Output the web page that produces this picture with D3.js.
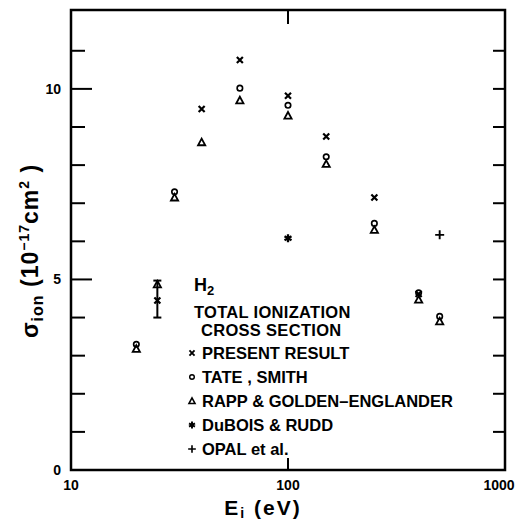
<!DOCTYPE html>
<html>
<head>
<meta charset="utf-8">
<script src="https://cdn.jsdelivr.net/npm/d3@7"></script>
<style>
  body { margin: 0; background: #fff; }
  text { font-family: "Liberation Sans", Arial, sans-serif; fill: #000; }
</style>
</head>
<body>
<script>
// energies in eV, cross sections in 1e-17 cm^2
var presentResult = [[25, 4.45], [40, 9.47], [60, 10.76], [100, 9.82], [150, 8.75], [250, 7.15], [400, 4.62]];
var presentError = [[25, 4.0, 4.97]];
var tateSmith = [[20, 3.3], [30, 7.3], [60, 10.02], [100, 9.57], [150, 8.22], [250, 6.47], [400, 4.65], [500, 4.03]];
var rappGolden = [[20, 3.18], [25, 4.87], [30, 7.15], [40, 8.6], [60, 9.7], [100, 9.3], [150, 8.03], [250, 6.3], [400, 4.47], [500, 3.9]];
var duboisRudd = [[100, 6.08]];
var opal = [[500, 6.17]];

var xTicks = [10, 100, 1000];
var yMajor = [0, 5, 10];
var yMinor = [1, 2, 3, 4, 6, 7, 8, 9, 11];
var legendNames = ["PRESENT RESULT", "TATE , SMITH", "RAPP & GOLDEN\u2013ENGLANDER", "DuBOIS & RUDD", "OPAL  et al."];
var legendKeys = ["x", "o", "t", "s", "p"];

var svg = d3.select("body").append("svg")
  .attr("width", 523)
  .attr("height", 520);

var x = d3.scaleLog().domain([10, 1000]).range([71, 505]);
var y = d3.scaleLinear().domain([0, 12.07]).range([470, 10]);

// markers
function drawMark(g, key) {
  if (key == "x") {
    g.append("path").attr("d", "M-3,-3L3,3M3,-3L-3,3")
      .attr("stroke", "#000").attr("stroke-width", 2.2).attr("fill", "none");
  } else if (key == "o") {
    g.append("circle").attr("r", 2.7)
      .attr("stroke", "#000").attr("stroke-width", 1.7).attr("fill", "none");
  } else if (key == "t") {
    g.append("path").attr("d", "M0,-3.6L3.6,3L-3.6,3Z")
      .attr("stroke", "#000").attr("stroke-width", 1.8).attr("fill", "none");
  } else if (key == "s") {
    g.append("path").attr("d", "M0,-4V4M-3.5,-2L3.5,2M3.5,-2L-3.5,2")
      .attr("stroke", "#000").attr("stroke-width", 2.3).attr("fill", "none");
  } else if (key == "p") {
    g.append("path").attr("d", "M0,-4.5V4.5M-4.5,0H4.5")
      .attr("stroke", "#000").attr("stroke-width", 1.9).attr("fill", "none");
  }
}

function plotSeries(data, key) {
  svg.append("g").selectAll("g")
    .data(data)
    .enter().append("g")
      .attr("transform", function(d) { return "translate(" + x(d[0]) + "," + y(d[1]) + ")"; })
      .each(function() { drawMark(d3.select(this), key); });
}

// frame
svg.append("rect")
  .attr("x", 71).attr("y", 10)
  .attr("width", 434).attr("height", 460)
  .attr("fill", "none")
  .attr("stroke", "#000")
  .attr("stroke-width", 2.5);

// y ticks
svg.selectAll(".ymaj")
  .data(yMajor.filter(function(v) { return v > 0; }))
  .enter().append("line")
    .attr("x1", 71).attr("x2", 92)
    .attr("y1", function(d) { return y(d); })
    .attr("y2", function(d) { return y(d); })
    .attr("stroke", "#000").attr("stroke-width", 2);

svg.selectAll(".ymin")
  .data(yMinor)
  .enter().append("line")
    .attr("x1", 71).attr("x2", 85)
    .attr("y1", function(d) { return y(d); })
    .attr("y2", function(d) { return y(d); })
    .attr("stroke", "#000").attr("stroke-width", 2);

svg.selectAll(".yright")
  .data(yMinor.concat([5, 10]))
  .enter().append("line")
    .attr("x1", 493).attr("x2", 505)
    .attr("y1", function(d) { return y(d); })
    .attr("y2", function(d) { return y(d); })
    .attr("stroke", "#000").attr("stroke-width", 2);

svg.selectAll(".ylab")
  .data(yMajor)
  .enter().append("text")
    .attr("x", 61)
    .attr("y", function(d) { return y(d) + 5; })
    .attr("text-anchor", "end")
    .style("font-size", "14px")
    .style("font-weight", "bold")
    .text(function(d) { return d; });

// x ticks
svg.selectAll(".xtop")
  .data([100])
  .enter().append("line")
    .attr("x1", function(d) { return x(d); })
    .attr("x2", function(d) { return x(d); })
    .attr("y1", 10).attr("y2", 24)
    .attr("stroke", "#000").attr("stroke-width", 2);

svg.selectAll(".xbot")
  .data([100])
  .enter().append("line")
    .attr("x1", function(d) { return x(d); })
    .attr("x2", function(d) { return x(d); })
    .attr("y1", 470).attr("y2", 458)
    .attr("stroke", "#000").attr("stroke-width", 2);

svg.selectAll(".xlab")
  .data(xTicks)
  .enter().append("text")
    .attr("x", function(d) { return d == 1000 ? x(d) - 6 : x(d); })
    .attr("y", 490)
    .attr("text-anchor", "middle")
    .style("font-size", "14px")
    .style("font-weight", "bold")
    .text(function(d) { return d; });

// axis titles
var xt = svg.append("text")
  .attr("x", 263).attr("y", 515)
  .attr("text-anchor", "middle")
  .style("font-size", "21px")
  .style("font-weight", "bold")
  .style("letter-spacing", "2px");
xt.append("tspan").text("E");
xt.append("tspan").attr("dy", 3).style("font-size", "14px").text("i");
xt.append("tspan").attr("dy", -3).text(" (eV)");

var yt = svg.append("text")
  .attr("transform", "translate(38,251) rotate(-90)")
  .attr("text-anchor", "middle")
  .style("font-size", "23px")
  .style("font-weight", "bold")
  .style("letter-spacing", "1px");
yt.append("tspan").text("\u03c3");
yt.append("tspan").attr("dy", 5).style("font-size", "16px").text("ion");
yt.append("tspan").attr("dy", -5).text("  (10");
yt.append("tspan").attr("dy", -9).style("font-size", "14px").text("\u221217");
yt.append("tspan").attr("dy", 9).text("cm");
yt.append("tspan").attr("dy", -9).style("font-size", "14px").text("2");
yt.append("tspan").attr("dy", 9).text(" )");

// error bar on the 25 eV point
var eb = svg.append("g").selectAll("g")
  .data(presentError)
  .enter().append("g");
eb.append("line")
  .attr("x1", function(d) { return x(d[0]); })
  .attr("x2", function(d) { return x(d[0]); })
  .attr("y1", function(d) { return y(d[1]); })
  .attr("y2", function(d) { return y(d[2]); })
  .attr("stroke", "#000").attr("stroke-width", 2);
eb.append("line")
  .attr("x1", function(d) { return x(d[0]) - 4; })
  .attr("x2", function(d) { return x(d[0]) + 4; })
  .attr("y1", function(d) { return y(d[1]); })
  .attr("y2", function(d) { return y(d[1]); })
  .attr("stroke", "#000").attr("stroke-width", 2);
eb.append("line")
  .attr("x1", function(d) { return x(d[0]) - 4; })
  .attr("x2", function(d) { return x(d[0]) + 4; })
  .attr("y1", function(d) { return y(d[2]); })
  .attr("y2", function(d) { return y(d[2]); })
  .attr("stroke", "#000").attr("stroke-width", 2);

// data
plotSeries(presentResult, "x");
plotSeries(tateSmith, "o");
plotSeries(rappGolden, "t");
plotSeries(duboisRudd, "s");
plotSeries(opal, "p");

// legend
var h2 = svg.append("text")
  .attr("x", 194).attr("y", 291)
  .style("font-size", "18px")
  .style("font-weight", "bold");
h2.append("tspan").text("H");
h2.append("tspan").attr("dy", 4).style("font-size", "13px").text("2");

svg.append("text")
  .attr("x", 194).attr("y", 318)
  .style("font-size", "16.5px")
  .style("font-weight", "bold")
  .style("letter-spacing", "0.3px")
  .text("TOTAL IONIZATION");
svg.append("text")
  .attr("x", 201).attr("y", 336)
  .style("font-size", "16.5px")
  .style("font-weight", "bold")
  .style("letter-spacing", "0.3px")
  .text("CROSS SECTION");

var leg = svg.append("g").selectAll("g")
  .data(legendNames)
  .enter().append("g")
    .attr("transform", function(d, i) { return "translate(192," + (353 + i * 24) + ")"; });
leg.each(function(d, i) {
  var g = d3.select(this).append("g").attr("transform", "scale(0.85)");
  drawMark(g, legendKeys[i]);
});
leg.append("text")
  .attr("x", 10).attr("y", 6)
  .style("font-size", "16.5px")
  .style("font-weight", "bold")
  .text(function(d) { return d; });
</script>
</body>
</html>
